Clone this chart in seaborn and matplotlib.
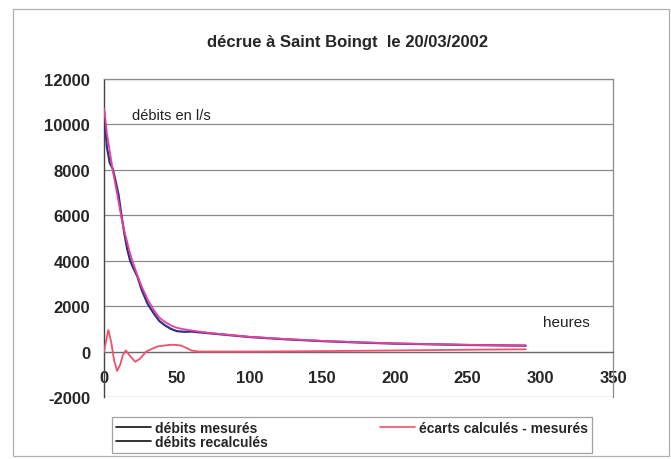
import matplotlib
matplotlib.use("Agg")
import matplotlib.pyplot as plt
import seaborn as sns
import pandas as pd
from matplotlib.lines import Line2D
from matplotlib.patches import Rectangle

# débits (l/s) en fonction du temps (heures)
heures = [0, 1, 2, 4, 6, 8, 10, 12, 14, 16, 18, 20, 23, 26, 30, 34, 38, 42, 46,
          50, 55, 60, 70, 80, 100, 125, 150, 175, 200, 225, 250, 275, 290]
debits_mesures = [10650, 9800, 9000, 8300, 8050, 7500, 6900, 6000, 5200, 4500, 4000,
                  3700, 3300, 2700, 2100, 1700, 1350, 1150, 1000, 900, 870, 880, 820,
                  760, 640, 540, 460, 400, 350, 320, 290, 270, 260]
debits_recalcules = [10700, 10200, 9600, 8800, 8000, 7300, 6600, 5900, 5300, 4800, 4300,
                     3900, 3350, 2850, 2300, 1850, 1500, 1300, 1150, 1050, 980, 930, 840,
                     770, 650, 550, 470, 410, 360, 325, 295, 275, 265]

# écarts calculés - mesurés
heures_ecarts = [0, 1.5, 3, 5, 7, 9, 11, 13, 15, 18, 21.5, 25, 29, 33, 37, 42, 46,
                 50, 53, 57, 60, 65, 100, 150, 200, 250, 290]
ecarts = [0, 500, 950, 400, -400, -850, -600, -150, 50, -200, -450, -300, 0, 120,
          230, 270, 300, 290, 260, 150, 50, 0, 0, 20, 50, 80, 100]

yticks = [-2000, 0, 2000, 4000, 6000, 8000, 10000, 12000]
xticks = [0, 50, 100, 150, 200, 250, 300, 350]

sns.set_style("white")
plt.rcParams['font.family'] = ['Liberation Sans', 'DejaVu Sans']
plt.rcParams['axes.unicode_minus'] = False

df = pd.DataFrame({'h': heures, 'mes': debits_mesures, 'rec': debits_recalcules})
df_e = pd.DataFrame({'h': heures_ecarts, 'e': ecarts})

fig = plt.figure(figsize=(6.71, 4.60), dpi=100)
ax = fig.add_axes([104 / 671, 1 - 398 / 460, (613 - 104) / 671, (398 - 80) / 460])

for y in yticks:
    ax.axhline(y, color='#8a8a8a', lw=0.9, zorder=0)

sns.lineplot(data=df, x='h', y='mes', ax=ax, color='#2e3282', lw=1.6, zorder=3)
sns.lineplot(data=df, x='h', y='rec', ax=ax, color='#e8409c', lw=1.3, zorder=4)
sns.lineplot(data=df_e, x='h', y='e', ax=ax, color='#f0506e', lw=1.3, zorder=4)

ax.set_xlim(0, 350)
ax.set_ylim(-2000, 12000)
ax.set_xticks(xticks)
ax.set_yticks(yticks)
ax.set_xlabel('')
ax.set_ylabel('')

ax.spines['bottom'].set_position(('data', 0))
for s in ['top', 'right']:
    ax.spines[s].set_color('#8a8a8a')
    ax.spines[s].set_linewidth(0.9)
ax.spines['bottom'].set_color('#6a6a6a')
ax.spines['bottom'].set_linewidth(0.9)
ax.spines['left'].set_color('#444444')
ax.spines['left'].set_linewidth(1.0)

ax.tick_params(axis='y', direction='out', length=4, width=0.9, color='#444444',
               labelsize=12, pad=6)
ax.tick_params(axis='x', direction='inout', length=5, width=0.9, color='#6a6a6a',
               labelsize=12, pad=11)
for lab in ax.get_xticklabels() + ax.get_yticklabels():
    lab.set_fontweight('bold')

ax.text(19, 10400, 'débits en l/s', fontsize=10.5, va='center', ha='left', color='#222222')
ax.text(302, 1320, 'heures', fontsize=11, va='center', ha='left', color='#222222')

fig.text(0.518, 1 - 42 / 460, 'décrue à Saint Boingt  le 20/03/2002', ha='center',
         va='center', fontsize=12, fontweight='bold')

# cadre extérieur
fig.patches.append(Rectangle((13 / 671, 1 - 457 / 460), 656 / 671, 447 / 460,
                             transform=fig.transFigure, fill=False,
                             edgecolor='#b0b0b0', lw=0.9))

handles = [Line2D([], [], color='#111111', lw=1.2),
           Line2D([], [], color='#111111', lw=1.2),
           Line2D([], [], color='#f0506e', lw=1.2)]
labels = ['débits mesurés', 'débits recalculés', 'écarts calculés - mesurés']
leg = fig.legend(handles, labels, ncol=2, loc='lower left', mode='expand',
                 bbox_to_anchor=(112 / 671, 1 - 454 / 460, 480 / 671, 40 / 460),
                 frameon=True, fancybox=False, edgecolor='#8a8a8a',
                 prop={'weight': 'bold', 'size': 10}, handlelength=2.5,
                 handletextpad=0.3, labelspacing=0.0, borderpad=0.3,
                 borderaxespad=0.0)
leg.get_frame().set_linewidth(0.9)

fig.savefig('out.png', dpi=100)
